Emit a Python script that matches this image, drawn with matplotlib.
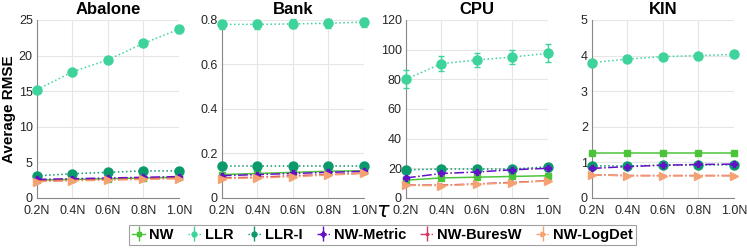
import numpy as np
import matplotlib.pyplot as plt

plt.rcParams['font.family'] = ['Liberation Sans', 'DejaVu Sans']

tau = [0.2, 0.4, 0.6, 0.8, 1.0]
tick_labels = ['0.2N', '0.4N', '0.6N', '0.8N', '1.0N']
datasets = ['Abalone', 'Bank', 'CPU', 'KIN']
methods = ['NW', 'LLR', 'LLR-I', 'NW-Metric', 'NW-BuresW', 'NW-LogDet']

# mean RMSE per dataset, per method
abalone = {
    'NW':        [2.5, 2.6, 2.7, 2.8, 2.9],
    'LLR':       [15.2, 17.7, 19.4, 21.7, 23.7],
    'LLR-I':     [3.1, 3.4, 3.6, 3.8, 3.8],
    'NW-Metric': [2.6, 2.7, 2.8, 2.9, 3.0],
    'NW-BuresW': [2.4, 2.5, 2.6, 2.7, 2.8],
    'NW-LogDet': [2.3, 2.4, 2.5, 2.6, 2.7],
}
bank = {
    'NW':        [0.105, 0.11, 0.115, 0.12, 0.122],
    'LLR':       [0.78, 0.78, 0.782, 0.785, 0.79],
    'LLR-I':     [0.143, 0.143, 0.143, 0.143, 0.143],
    'NW-Metric': [0.1, 0.105, 0.11, 0.115, 0.12],
    'NW-BuresW': [0.09, 0.093, 0.1, 0.105, 0.112],
    'NW-LogDet': [0.087, 0.09, 0.095, 0.103, 0.11],
}
cpu = {
    'NW':        [12.0, 13.5, 14.0, 14.5, 15.0],
    'LLR':       [80.0, 90.5, 93.0, 95.0, 97.5],
    'LLR-I':     [19.0, 19.5, 19.5, 19.5, 21.0],
    'NW-Metric': [13.5, 16.5, 17.5, 19.0, 20.0],
    'NW-BuresW': [8.7, 8.6, 9.5, 10.5, 11.6],
    'NW-LogDet': [8.5, 8.3, 9.2, 10.2, 11.5],
}
kin = {
    'NW':        [1.25, 1.25, 1.25, 1.25, 1.25],
    'LLR':       [3.8, 3.9, 3.97, 4.0, 4.03],
    'LLR-I':     [0.9, 0.9, 0.92, 0.93, 0.93],
    'NW-Metric': [0.83, 0.88, 0.92, 0.94, 0.95],
    'NW-BuresW': [0.65, 0.63, 0.63, 0.63, 0.63],
    'NW-LogDet': [0.65, 0.62, 0.62, 0.62, 0.62],
}
# error bar half-widths
abalone_err = {'LLR': [0.3, 0.3, 0.3, 0.3, 0.5]}
bank_err = {'LLR': [0.02, 0.02, 0.02, 0.02, 0.02]}
cpu_err = {'LLR': [6, 5, 4.5, 5, 6], 'NW-Metric': [1.5, 1.5, 1.5, 1.5, 1.5]}
kin_err = {}

all_data = [abalone, bank, cpu, kin]
all_err = [abalone_err, bank_err, cpu_err, kin_err]
ylims = [(0, 25), (0, 0.8), (0, 120), (0, 5)]
yticks = [[0, 5, 10, 15, 20, 25], [0, 0.2, 0.4, 0.6, 0.8],
          [0, 20, 40, 60, 80, 100, 120], [0, 1, 2, 3, 4, 5]]
ytick_labels = [None, ['0', '0.2', '0.4', '0.6', '0.8'], None, None]

colors = {'NW': '#4cc43a', 'LLR': '#3fd39c', 'LLR-I': '#0b9a6c',
          'NW-Metric': '#6410c8', 'NW-BuresW': '#d23a62', 'NW-LogDet': '#f5a272'}
markers = {'NW': 's', 'LLR': 'o', 'LLR-I': 'o', 'NW-Metric': 'P',
           'NW-BuresW': '.', 'NW-LogDet': '>'}
styles = {'NW': '-', 'LLR': ':', 'LLR-I': ':', 'NW-Metric': '-.',
          'NW-BuresW': '-.', 'NW-LogDet': '-.'}
msizes = {'NW': 5, 'LLR': 6.5, 'LLR-I': 6.5, 'NW-Metric': 5, 'NW-BuresW': 4, 'NW-LogDet': 6}

fig = plt.figure(figsize=(7.47, 2.49), dpi=100)
lefts = [0.0495, 0.297, 0.5435, 0.7925]
for i, name in enumerate(datasets):
    ax = fig.add_axes([lefts[i], 0.205, 0.19, 0.715])
    d = all_data[i]
    e = all_err[i]
    for m in methods:
        ax.errorbar(tau, d[m], yerr=e.get(m, None), color=colors[m],
                    marker=markers[m], markersize=msizes[m], linestyle=styles[m],
                    linewidth=1.1, capsize=2, elinewidth=1, clip_on=False,
                    label=m, zorder=3)
    ax.set_xlim(0.2, 1.0)
    ax.set_ylim(*ylims[i])
    ax.set_xticks(tau)
    ax.set_xticklabels(tick_labels)
    ax.set_yticks(yticks[i])
    if ytick_labels[i]:
        ax.set_yticklabels(ytick_labels[i])
    ax.grid(True, color='#e6e6e6', linewidth=0.8)
    ax.set_axisbelow(True)
    for s in ['top', 'right']:
        ax.spines[s].set_visible(False)
    for s in ['left', 'bottom']:
        ax.spines[s].set_color('#888888')
    ax.tick_params(labelsize=9, length=0, colors='#262626')
    ax.tick_params(axis='x', pad=5)
    ax.tick_params(axis='y', pad=3)
    ax.set_title(name, fontsize=12, fontweight='bold', pad=4)
    if i == 0:
        ax.set_ylabel('Average RMSE', fontsize=11, fontweight='bold', labelpad=2)

fig.text(0.513, 0.15, r'$\tau$', fontsize=15, ha='center', va='center')

# legend entries: small errorbar glyphs as in the reference
handles = []
for m in methods:
    handles.append(plt.errorbar([], [], yerr=[], color=colors[m], marker=markers[m],
                                markersize=3.5, linestyle=styles[m], linewidth=1,
                                capsize=2))
leg = fig.legend(handles, methods, loc='center', bbox_to_anchor=(0.512, 0.057),
                 ncol=6, frameon=True, fancybox=False,
                 prop={'weight': 'bold', 'size': 10.5}, handlelength=0.9,
                 handletextpad=0.25, columnspacing=1.0, borderpad=0.2,
                 edgecolor='#888888')
leg.get_frame().set_linewidth(0.8)

fig.savefig('out.png', dpi=100)
